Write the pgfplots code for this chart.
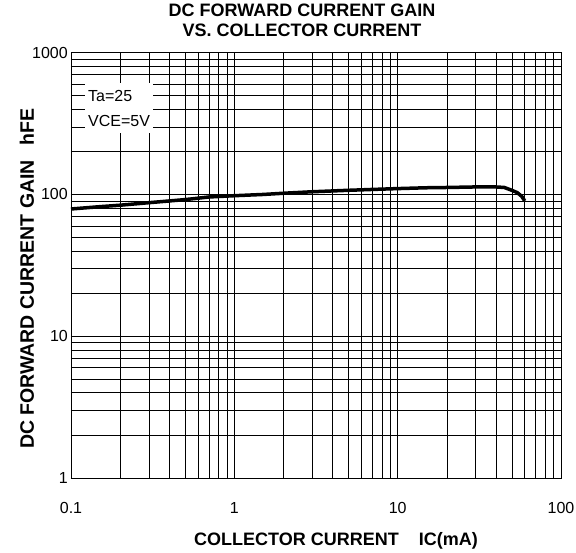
\documentclass[border=0pt]{standalone}
\usepackage{pgfplots}
\pgfplotsset{compat=1.18}
\usepackage{fontspec}
\setmainfont{Liberation Sans}
\begin{document}
\begin{tikzpicture}
\useasboundingbox (-71pt,-74pt) rectangle (505pt,478pt);
\begin{loglogaxis}[
    at={(0,0)}, anchor=south west,
    width=490pt, height=425.3pt, scale only axis,
    xmin=0.1, xmax=100, ymin=1, ymax=1000,
    xtick={0.1,1,10,100}, xticklabels={0.1,1,10,100},
    ytick={1,10,100,1000}, yticklabels={1,10,100,1000},
    grid=both,
    major grid style={black, line width=0.7pt},
    minor grid style={black, line width=0.6pt},
    tick style={draw=none},
    axis line style={black, line width=0.8pt},
    ticklabel style={font=\fontsize{16}{18}\selectfont},
    xticklabel style={anchor=center, yshift=-30pt},
    yticklabel style={anchor=east, inner sep=0pt, xshift=-3pt},
    title={DC FORWARD CURRENT GAIN\\VS. COLLECTOR CURRENT},
    title style={font=\bfseries\fontsize{18}{20}\selectfont, align=center,
        at={(axis description cs:0.5,1)}, anchor=center, yshift=26.7pt, xshift=-14pt},
    xlabel={COLLECTOR CURRENT\hspace{20pt}IC(mA)},
    xlabel style={font=\bfseries\fontsize{18}{20}\selectfont,
        at={(axis description cs:0.5,0)}, anchor=center, yshift=-62.5pt, xshift=20pt},
    ylabel={DC FORWARD CURRENT GAIN\hspace{15pt}hFE},
    ylabel style={font=\bfseries\fontsize{19.5}{21}\selectfont,
        at={(axis description cs:-0.0898,0.469)}, anchor=center},
]
\addplot[black, line width=3.5pt] coordinates {
(0.1,79)(0.15,82)(0.2,84)(0.3,87.5)(0.5,92)(0.7,96)(1,98)(1.5,100)(2,102)
(3,104.5)(5,107)(7,108.5)(10,110)(15,111.5)(20,112)(30,113)(40,113)
(45,112)(50,107)(54,103)(57.5,97)(60,90)
};
\node[fill=white, anchor=north west, align=left, inner xsep=3pt, inner ysep=7pt,
      font=\fontsize{16}{25}\selectfont] at (rel axis cs:0.0286,0.929) {Ta=25\\VCE=5V};
\end{loglogaxis}
\end{tikzpicture}
\end{document}
